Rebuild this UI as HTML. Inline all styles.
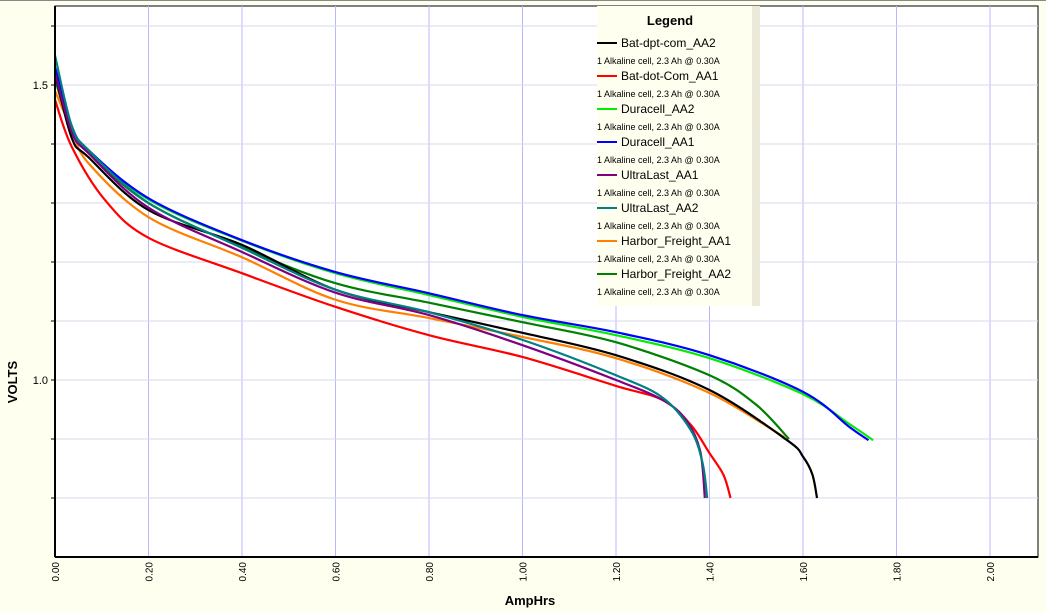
<!DOCTYPE html>
<html><head><meta charset="utf-8"><style>
body{margin:0;background:#fffff0;}
svg{display:block;font-family:"Liberation Sans",sans-serif;}
</style></head><body>
<svg id="c" width="1046" height="612">
<rect x="0" y="0" width="1046" height="612" fill="#fffff0"/>
<line x1="0" y1="0.5" x2="1046" y2="0.5" stroke="#888"/>
<rect x="55" y="6" width="983" height="551" fill="#fff" stroke="#000" stroke-width="1"/>
<g id="grid"></g>
<g id="series"></g>
<line x1="55" y1="6" x2="55" y2="557" stroke="#000" stroke-width="2"/>
<line x1="55" y1="557" x2="1038" y2="557" stroke="#000" stroke-width="2"/>
<g id="ticks"></g>
<text x="530" y="605" font-size="13" font-weight="bold" text-anchor="middle">AmpHrs</text>
<text transform="translate(17,382) rotate(-90)" font-size="13" font-weight="bold" text-anchor="middle">VOLTS</text>
<g>
<rect x="597" y="6" width="163" height="300" fill="#fffff0"/>
<rect x="752" y="6" width="8" height="300" fill="#ece9d8"/>
<text x="670" y="25" font-size="13" font-weight="bold" text-anchor="middle">Legend</text>
<g id="legend"></g>
</g>
</svg>
<script>
const NS="http://www.w3.org/2000/svg";
const xTicks=["0.00","0.20","0.40","0.60","0.80","1.00","1.20","1.40","1.60","1.80","2.00"];
const yTickVals=[0.8,0.9,1.0,1.1,1.2,1.3,1.4,1.5,1.6];
const yTickLabels={"1.0":"1.0","1.5":"1.5"};
const names=["Bat-dpt-com_AA2","Bat-dot-Com_AA1","Duracell_AA2","Duracell_AA1","UltraLast_AA1","UltraLast_AA2","Harbor_Freight_AA1","Harbor_Freight_AA2"];
const colors=["#000000","#ff0000","#00ee00","#0000ff","#800080","#008080","#ff8000","#008000"];
const blackX=[0,0.036,0.071,0.2,0.4,0.6,0.8,1.0,1.2,1.4,1.566,1.6,1.62,1.63];
const blackV=[1.52,1.41,1.378,1.288,1.229,1.153,1.115,1.08,1.042,0.983,0.898,0.87,0.84,0.80];
const redX=[0,0.036,0.107,0.2,0.4,0.6,0.8,1.0,1.2,1.3,1.36,1.4,1.43,1.445];
const redV=[1.475,1.395,1.305,1.241,1.181,1.124,1.076,1.039,0.990,0.966,0.924,0.876,0.839,0.80];
const greenX=[0,0.036,0.071,0.2,0.4,0.6,0.8,1.0,1.2,1.4,1.6,1.7,1.75];
const greenV=[1.53,1.43,1.39,1.306,1.236,1.181,1.144,1.107,1.076,1.037,0.976,0.925,0.898];
const blueX=[0,0.036,0.071,0.2,0.4,0.6,0.8,1.0,1.2,1.4,1.6,1.7,1.74];
const blueV=[1.53,1.43,1.39,1.308,1.237,1.183,1.147,1.110,1.081,1.042,0.98,0.92,0.898];
const purpleX=[0,0.036,0.071,0.2,0.4,0.6,0.8,1.0,1.2,1.3,1.35,1.38,1.39];
const purpleV=[1.52,1.42,1.385,1.292,1.217,1.148,1.11,1.059,1.0,0.966,0.932,0.88,0.80];
const tealX=[0,0.036,0.071,0.2,0.4,0.6,0.8,1.0,1.2,1.3,1.36,1.385,1.395];
const tealV=[1.55,1.43,1.39,1.30,1.224,1.153,1.115,1.068,1.008,0.97,0.915,0.86,0.80];
const orangeX=[0,0.036,0.071,0.2,0.4,0.6,0.8,1.0,1.2,1.4,1.56];
const orangeV=[1.49,1.424,1.368,1.276,1.208,1.136,1.105,1.073,1.037,0.978,0.903];
const dgreenX=[0,0.036,0.071,0.2,0.4,0.6,0.8,1.0,1.2,1.4,1.5,1.57];
const dgreenV=[1.51,1.42,1.385,1.30,1.225,1.164,1.131,1.098,1.064,1.008,0.958,0.90];
const seriesX=[blackX,redX,greenX,blueX,purpleX,tealX,orangeX,dgreenX];
const seriesV=[blackV,redV,greenV,blueV,purpleV,tealV,orangeV,dgreenV];
const drawOrder=[2,3,7,6,0,1,4,5];
function sx(a){return 55+a*467.5;}
function sy(v){return 380-(v-1.0)*590;}
function mk(tag,attrs,parent){const e=document.createElementNS(NS,tag);for(const k in attrs)e.setAttribute(k,attrs[k]);parent.appendChild(e);return e;}
const grid=document.getElementById('grid'),ticks=document.getElementById('ticks');
xTicks.forEach((t,i)=>{const x=sx(parseFloat(t));
 if(i>0){const l=mk('line',{x1:x,y1:6,x2:x,y2:557,stroke:'#b8b8ff'},grid);
 
 }
 const tx=mk('text',{transform:`translate(${x+4},${562}) rotate(-90)`,'font-size':10,'text-anchor':'end'},ticks);
 tx.setAttribute('text-anchor','end');
 
 
 tx.textContent=t;
});
yTickVals.forEach(v=>{const y=sy(v);
 const l=mk('line',{x1:55,y1:y,x2:1038,y2:y,stroke:'#d8d8e8'},grid);
 
 
 const tk=mk('line',{x1:51,y1:y,x2:55,y2:y,stroke:'#000'},ticks);
 
 
 const key=v.toFixed(1);
 if(yTickLabels[key]){const t=mk('text',{x:48,y:y+4,'font-size':11,'text-anchor':'end'},ticks);
 
 
 t.textContent=yTickLabels[key];}
});
function pathFor(X,V){const p=X.map((a,i)=>[sx(a),sy(V[i])]);let d=`M${p[0][0]},${p[0][1]}`;
 for(let i=0;i<p.length-1;i++){const p0=p[i-1]||p[i],p1=p[i],p2=p[i+1],p3=p[i+2]||p2;
 const c1=[p1[0]+(p2[0]-p0[0])/6,p1[1]+(p2[1]-p0[1])/6],c2=[p2[0]-(p3[0]-p1[0])/6,p2[1]-(p3[1]-p1[1])/6];
 d+=` C${c1[0]},${c1[1]} ${c2[0]},${c2[1]} ${p2[0]},${p2[1]}`;}return d;}
const sg=document.getElementById('series');
drawOrder.forEach(i=>{const pa=mk('path',{d:pathFor(seriesX[i],seriesV[i]),fill:'none',stroke:colors[i],'stroke-width':2.2},sg);
 
 });
const lg=document.getElementById('legend');
names.forEach((n,i)=>{const y=43+i*33;
 const ln=mk('line',{x1:597,y1:y,x2:617,y2:y,stroke:colors[i],'stroke-width':2},lg);
 
 
 const t=mk('text',{x:621,y:y+4,'font-size':12},lg);
 
 
 t.textContent=n;
 const s=mk('text',{x:597,y:y+21,'font-size':9},lg);
 
 
 s.textContent='1 Alkaline cell, 2.3 Ah @ 0.30A';
});
</script>
</body></html>
